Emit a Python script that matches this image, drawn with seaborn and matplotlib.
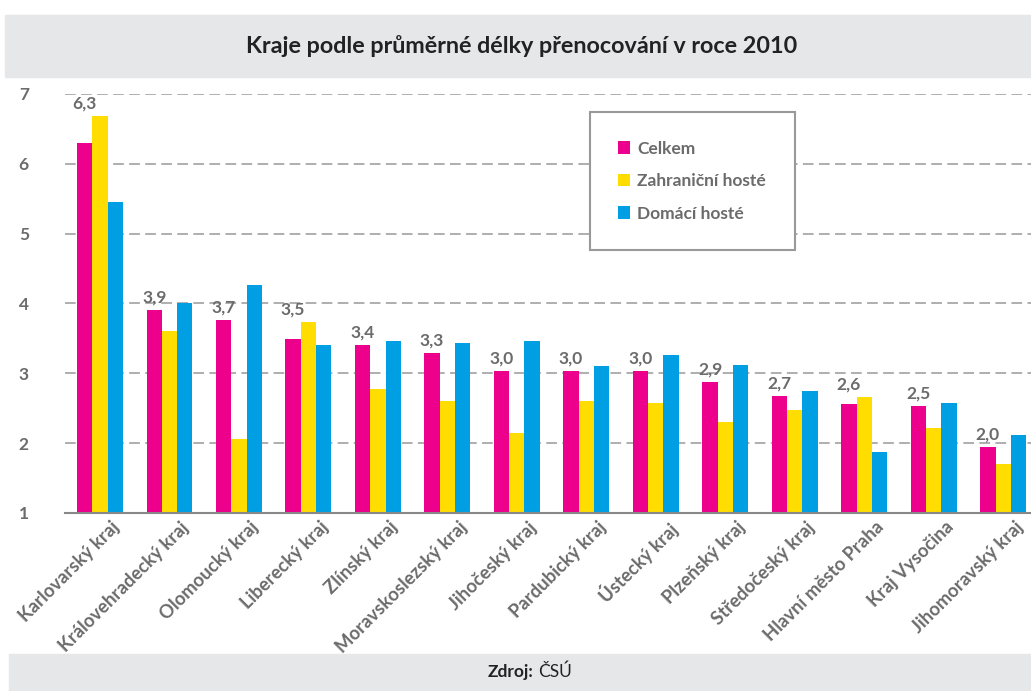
import pandas as pd
import numpy as np
import matplotlib
matplotlib.use('Agg')
import matplotlib.pyplot as plt
import matplotlib.transforms as mtransforms
from matplotlib.patches import Rectangle
import seaborn as sns

# data
kraje = ['Karlovarský kraj', 'Královehradecký kraj', 'Olomoucký kraj', 'Liberecký kraj',
         'Zlínský kraj', 'Moravskoslezský kraj', 'Jihočeský kraj', 'Pardubický kraj',
         'Ústecký kraj', 'Plzeňský kraj', 'Středočeský kraj', 'Hlavní město Praha',
         'Kraj Vysočina', 'Jihomoravský kraj']
celkem = [6.30, 3.90, 3.76, 3.49, 3.40, 3.29, 3.03, 3.03, 3.03, 2.87, 2.68, 2.56, 2.53, 1.95]
zahranicni = [6.68, 3.61, 2.06, 3.74, 2.78, 2.61, 2.15, 2.61, 2.57, 2.31, 2.48, 2.66, 2.22, 1.70]
domaci = [5.46, 4.00, 4.27, 3.41, 3.47, 3.44, 3.46, 3.10, 3.26, 3.12, 2.74, 1.87, 2.58, 2.11]
labels = ['6,3', '3,9', '3,7', '3,5', '3,4', '3,3', '3,0', '3,0', '3,0', '2,9', '2,7', '2,6', '2,5', '2,0']
series = ['Celkem', 'Zahraniční hosté', 'Domácí hosté']
colors = ['#EC008C', '#FFDD00', '#009FE3']

df = pd.DataFrame({
    'kraj': kraje * 3,
    'hodnota': celkem + zahranicni + domaci,
    'serie': [s for s in series for _ in kraje],
})

sns.set_style('white')
plt.rcParams['font.family'] = ['Lato', 'DejaVu Sans']
GREY_TXT = '#6b6b6b'
BAND = '#E6E7E8'

fig = plt.figure(figsize=(10.31, 6.91), dpi=100)
ax = fig.add_axes([0.063, 0.2576, 0.937, 0.6064])

sns.barplot(data=df, x='kraj', y='hodnota', hue='serie', palette=colors,
            width=0.66, gap=0, linewidth=0, saturation=1, errorbar=None, ax=ax, zorder=3)

ax.set_ylim(1, 7)
ax.set_xlim(-0.504, 13.4)
ax.set_yticks(range(1, 8))
ax.yaxis.grid(True, linestyle=(0, (7, 3.5)), color='#999999', linewidth=1.1, zorder=0)
ax.set_axisbelow(True)
for s in ['top', 'right', 'left']:
    ax.spines[s].set_visible(False)
ax.spines['bottom'].set_color('#888888')
ax.spines['bottom'].set_linewidth(1.5)
ax.spines['bottom'].set_zorder(4)
ax.set_xlabel('')
ax.set_ylabel('')
ax.tick_params(axis='both', length=0)
ax.tick_params(axis='y', pad=26, labelsize=12.5, labelcolor=GREY_TXT)
for t in ax.get_yticklabels():
    t.set_fontweight('bold')

ax.set_xticks(range(len(kraje)))
ax.set_xticklabels(kraje, rotation=45, ha='right', rotation_mode='anchor',
                   fontsize=13.3, color=GREY_TXT, fontweight='bold')
ax.tick_params(axis='x', pad=4)
# labels sit a little right of the tick in the reference
offset = mtransforms.ScaledTranslation(11 / 100, 0, fig.dpi_scale_trans)
for t in ax.get_xticklabels():
    t.set_transform(t.get_transform() + offset)

# value labels above the Celkem bars
for i, p in enumerate(ax.containers[0]):
    top = max(celkem[i], zahranicni[i])
    ax.annotate(labels[i], (p.get_x() + p.get_width() / 2, top),
                xytext=(0, 9), textcoords='offset points', ha='center', va='center',
                fontsize=12.5, color=GREY_TXT, fontweight='bold', zorder=5)

# legend
handles, labs = ax.get_legend_handles_labels()
leg = ax.legend(handles, labs, loc='upper left', bbox_to_anchor=(0.543, 0.957),
                frameon=True, fancybox=False, framealpha=1, edgecolor='#999999',
                prop={'weight': 'bold', 'size': 12.5},
                handlelength=0.7, handleheight=0.7, handletextpad=0.4,
                labelspacing=0.95, borderpad=1.65, borderaxespad=0)
leg.get_frame().set_linewidth(1.5)
leg.set_zorder(6)
for t in leg.get_texts():
    t.set_color(GREY_TXT)

# title band and footer band
fig.patches.append(Rectangle((5 / 1031, 1 - 77 / 691), 1, 62 / 691,
                             transform=fig.transFigure, color=BAND, zorder=0))
fig.patches.append(Rectangle((9 / 1031, 0), 1, 37 / 691,
                             transform=fig.transFigure, color=BAND, zorder=0))
fig.text(0.506, 1 - 46 / 691, 'Kraje podle průměrné délky přenocování v roce 2010',
         ha='center', va='center', fontsize=16.8, fontweight='bold', color='#222222')
fig.text(0.5170, 1 - 672 / 691, 'Zdroj:', ha='right', va='center', fontsize=12.5,
         fontweight='bold', color='#222222')
fig.text(0.5215, 1 - 672 / 691, 'ČSÚ', ha='left', va='center', fontsize=12.5, color='#222222')

fig.savefig('out.png', dpi=100)
